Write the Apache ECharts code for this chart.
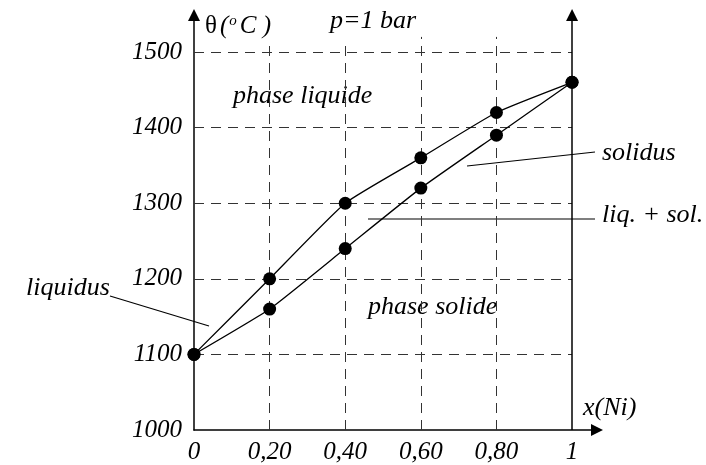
<!DOCTYPE html>
<html>
<head>
<meta charset="utf-8">
<script src="https://cdn.jsdelivr.net/npm/echarts@6/dist/echarts.min.js"></script>
<style>
  html, body { margin: 0; padding: 0; background: #fff; }
  #chart { width: 706px; height: 465px; }
</style>
</head>
<body>
<div id="chart"></div>
<script>
const xValues = [0, 0.2, 0.4, 0.6, 0.8, 1];
const liquidus = [1100, 1200, 1300, 1360, 1420, 1460];
const solidus = [1100, 1160, 1240, 1320, 1390, 1460];

// graduations
const xTicks = [0, 0.2, 0.4, 0.6, 0.8, 1];
const xTickLabels = ['0', '0,20', '0,40', '0,60', '0,80', '1'];
const yTicks = [1000, 1100, 1200, 1300, 1400, 1500];
// hauteur des pointillés verticaux
const xGridTop = [1510, 1510, 1520, 1520];

const serif = 'Liberation Serif';
const chart = echarts.init(document.getElementById('chart'));

const pairs = (ys) => xValues.map((x, i) => [x, ys[i]]);

// lignes de la grille en pointillés (de x=0 à x=1, et de 1000 jusqu'au-dessus de 1500)
const dash = { type: [10, 7], color: '#333', width: 1 };
const gridLines = [];
yTicks.slice(1).forEach((y) => {
  gridLines.push([{ coord: [0, y], lineStyle: dash }, { coord: [1, y] }]);
});
xTicks.slice(1, 5).forEach((x, i) => {
  gridLines.push([{ coord: [x, 1000], lineStyle: dash }, { coord: [x, xGridTop[i]] }]);
});

// étiquettes en italique
const labelRich = { v: { fontFamily: serif, fontStyle: 'italic', fontSize: 25, color: '#000' } };

const italic = (text, x, y) => ({
  type: 'text',
  x: x,
  y: y,
  style: { text: text, font: 'italic 26px "Liberation Serif"', fill: '#000', verticalAlign: 'middle' },
});
const leader = (x1, y1, x2, y2) => ({
  type: 'line',
  shape: { x1: x1, y1: y1, x2: x2, y2: y2 },
  style: { stroke: '#000', lineWidth: 1.2 },
});

const option = {
  animation: false,
  grid: { left: 194, right: 109, top: 15, bottom: 33 },
  xAxis: {
    type: 'value',
    min: 0,
    max: 1.066,
    interval: 0.2,
    axisLine: {
      onZero: false,
      symbol: ['none', 'triangle'],
      symbolSize: [12, 12],
      lineStyle: { color: '#000', width: 1.5 },
    },
    axisTick: { show: false },
    splitLine: { show: false },
    axisLabel: {
      margin: 10,
      fontStyle: 'italic',
      rich: labelRich,
      formatter: (v) => {
        const i = xTicks.findIndex((t) => Math.abs(t - v) < 1e-6);
        return i < 0 ? '' : '{v|' + xTickLabels[i] + '}';
      },
    },
  },
  yAxis: {
    type: 'value',
    min: 1000,
    max: 1549,
    interval: 100,
    axisLine: {
      show: true,
      onZero: false,
      symbol: ['none', 'triangle'],
      symbolSize: [12, 12],
      lineStyle: { color: '#000', width: 1.5 },
    },
    axisTick: { show: false },
    splitLine: { show: false },
    axisLabel: {
      margin: 12,
      fontStyle: 'italic',
      rich: labelRich,
      formatter: (v) => (yTicks.indexOf(v) < 0 ? '' : '{v|' + v + '}'),
    },
  },
  series: [
    {
      name: 'grille',
      type: 'line',
      data: [],
      silent: true,
      markLine: {
        z: 1,
        silent: true,
        symbol: 'none',
        label: { show: false },
        animation: false,
        data: gridLines.concat([
          // verticale x = 1 avec flèche
          [
            { coord: [1, 1000], lineStyle: { type: 'solid', color: '#000', width: 1.5 } },
            { coord: [1, 1549], symbol: 'triangle', symbolSize: 12 },
          ],
        ]),
      },
    },
    {
      name: 'liquidus',
      type: 'line',
      data: pairs(liquidus),
      smooth: 0.15,
      symbol: 'circle',
      symbolSize: 13,
      z: 3,
      itemStyle: { color: '#000' },
      lineStyle: { color: '#000', width: 1.3 },
    },
    {
      name: 'solidus',
      type: 'line',
      data: pairs(solidus),
      smooth: 0.15,
      symbol: 'circle',
      symbolSize: 13,
      z: 3,
      itemStyle: { color: '#000' },
      lineStyle: { color: '#000', width: 1.3 },
    },
  ],
  graphic: [
    {
      type: 'text',
      x: 205,
      y: 26,
      style: {
        text: '{t|θ}{i|(}{s|o}{i|C )}',
        verticalAlign: 'middle',
        rich: {
          t: { fontFamily: serif, fontSize: 25, fill: '#000' },
          i: { fontFamily: serif, fontStyle: 'italic', fontSize: 25, fill: '#000', padding: [0, 0, 0, 3] },
          s: { fontFamily: serif, fontStyle: 'italic', fontSize: 15, fill: '#000', verticalAlign: 'top', padding: [0, 0, 0, 1] },
        },
      },
    },
    italic('p=1 bar', 330, 21),
    italic('phase liquide', 233, 96),
    italic('phase solide', 368, 307),
    italic('liquidus', 26, 288),
    italic('solidus', 602, 153),
    italic('liq. + sol.', 602, 215),
    italic('x(Ni)', 583, 408),
    leader(110, 296, 209, 326),
    leader(467, 166, 595, 152),
    leader(368, 219, 595, 219),
  ],
};

chart.setOption(option);
</script>
</body>
</html>
